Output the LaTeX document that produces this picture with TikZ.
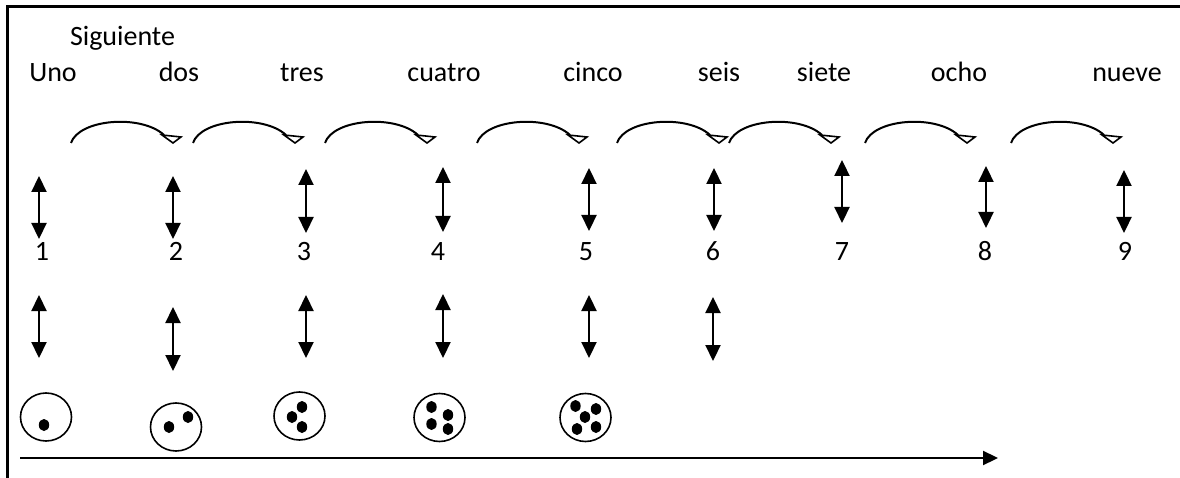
\documentclass[tikz,border=0pt]{standalone}
\usepackage{fontspec}
\setmainfont{Carlito}
\usetikzlibrary{arrows.meta,shapes.geometric,calc}
\begin{document}
\begin{tikzpicture}[x=1pt,y=-1pt,
  lbl/.style={anchor=base,inner sep=0pt,font=\fontsize{28}{34}\selectfont},
  dbl/.style={line width=2.2pt,{Triangle[length=16pt,width=15pt]}-{Triangle[length=16pt,width=15pt]}},
  hop/.style={line width=2pt},
  hophead/.style={line width=1.6pt,line join=miter,fill=white},
  bag/.style={draw,ellipse,line width=1.6pt,minimum width=51pt,minimum height=48pt,inner sep=0pt},
  axis/.style={line width=2.2pt,-{Triangle[length=15pt,width=14pt]}},
  frame/.style={line width=3pt}]
\useasboundingbox (0,0) rectangle (1180,478);
\clip (0,0) rectangle (1180,478);

% outer frame, only its top and left sides fall inside the page
\draw[frame] (7,7) rectangle (1200,500);

% heading and number words
\node[lbl] (sig) at (122.5,46) {Siguiente};
\foreach \w/\x/\n in {Uno/53/w1,dos/179/w2,tres/302/w3,cuatro/444/w4,cinco/593/w5,
                      seis/719/w6,siete/824/w7,ocho/959/w8,nueve/1127/w9}
  \node[lbl] (\n) at (\x,82) {\w};

% "next" hops between consecutive words: a curve ending in an open head
\foreach \s/\k in {71/1,193/2,325/3,477/4,617/5,729/6,865/7,1011/8} {
  \coordinate (hs\k) at (\s,143);
  \coordinate (he\k) at (\s+93,135);
  \draw[hop] (hs\k) .. controls ($(hs\k)+(8,-24)$) and ($(hs\k)+(70,-29)$) .. (he\k);
  \draw[hophead] ($(hs\k)+(91,-8)$) -- ($(hs\k)+(110,-6)$) -- ($(hs\k)+(102,0)$) -- cycle;
}

% digits
\foreach \d/\x in {1/42,2/176,3/304,4/438,5/586,6/713,7/842,8/985,9/1125}
  \node[lbl] (d\d) at (\x,261) {\d};

% word <-> digit links
\foreach \k/\x/\a/\b in {1/39/176/239,2/173/176/239,3/306/169/233,4/443/167/232,
                         5/589/168/231,6/714/168/231,7/842/160/223,8/986/166/228,9/1124/170/233} {
  \coordinate (ua\k) at (\x,\a);
  \coordinate (ub\k) at (\x,\b);
  \draw[dbl] (ua\k) -- (ub\k);
}

% digit <-> quantity links
\foreach \k/\x/\a/\b in {1/39/295/358,2/173/307/371,3/306/295/358,4/443/294/358,
                         5/589/295/358,6/713/297/361} {
  \coordinate (la\k) at (\x,\a);
  \coordinate (lb\k) at (\x,\b);
  \draw[dbl] (la\k) -- (lb\k);
}

% quantity bags with dots
\node[bag] (b1) at (46,417) {};
\node[bag] (b2) at (176,427) {};
\node[bag] (b3) at (299.5,416) {};
\node[bag] (b4) at (439.5,417.5) {};
\node[bag] (b5) at (585.5,417.5) {};
\foreach \p in {(44,425),
                (169,427),(188,417),
                (302,407),(292,417),(302,427),
                (431.5,407),(448,415),(431.5,424),(448,429),
                (575.5,406),(596,409),(585,417),(577,429),(596,427)}
  \fill \p ellipse [x radius=5.2pt,y radius=6pt];

% number line
\coordinate (ax0) at (20,458);
\coordinate (ax1) at (998,458);
\draw[axis] (ax0) -- (ax1);
\end{tikzpicture}
\end{document}
